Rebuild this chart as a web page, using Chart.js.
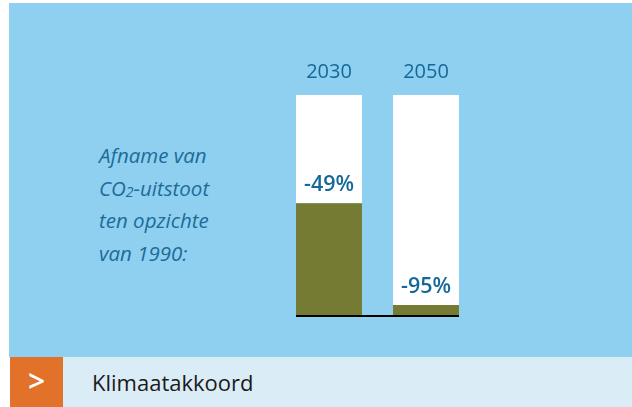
<!DOCTYPE html>
<html>
<head>
<meta charset="utf-8">
<script src="https://cdn.jsdelivr.net/npm/chart.js@4/dist/chart.umd.min.js"></script>
<style>
  body { margin: 0; width: 632px; height: 407px; background: #fff; position: relative; overflow: hidden; font-family: "Open Sans", sans-serif; }
  .blue { position: absolute; left: 9px; top: 3px; width: 623px; height: 354px; background: #8fd0f0; }
  .btn { position: absolute; left: 10px; top: 357px; width: 53px; height: 50px; background: #e2712a; color: #fff; font-size: 30px; font-weight: 600; line-height: 48px; text-align: center; }
  .strip { position: absolute; left: 63px; top: 357px; width: 569px; height: 50px; background: #daecf6; }
  .strip span { position: absolute; left: 29px; top: 0; line-height: 50px; font-size: 22px; color: #1a1a1a; }
  .note { position: absolute; left: 99px; top: 139px; font-style: italic; font-size: 20.5px; line-height: 32.7px; color: #1d6b99; }
  .note sub { font-size: 14px; line-height: 0; position: relative; top: 1px; vertical-align: baseline; }
  .chart { position: absolute; left: 0; top: 0; width: 632px; height: 407px; }
</style>
</head>
<body>
<div class="blue"></div>
<div class="btn">&gt;</div>
<div class="strip"><span>Klimaatakkoord</span></div>
<div class="note">Afname van<br>CO<sub>2</sub>-uitstoot<br>ten opzichte<br>van 1990:</div>
<div class="chart"><canvas id="c"></canvas></div>
<script>
  const years = ["2030", "2050"];
  const remaining = [51, 5];
  const reduction = [49, 95];
  const reductionLabels = ["-49%", "-95%"];

  const textBlue = "#15689a";

  const barLabels = {
    id: "barLabels",
    afterDatasetsDraw(chart) {
      const ctx = chart.ctx;
      const green = chart.getDatasetMeta(0).data;
      const y0 = chart.scales.y.getPixelForValue(0);
      const yTop = chart.scales.y.getPixelForValue(100);
      ctx.save();
      // baseline under the bars only
      const first = green[0], last = green[green.length - 1];
      ctx.fillStyle = "#000";
      ctx.fillRect(first.x - first.width / 2, y0 - 1, last.x + last.width / 2 - (first.x - first.width / 2), 2);
      ctx.textAlign = "center";
      ctx.textBaseline = "alphabetic";
      ctx.fillStyle = textBlue;
      green.forEach((bar, i) => {
        ctx.font = "20px 'Open Sans'";
        ctx.fillText(years[i], bar.x, yTop - 17);
        ctx.font = "600 21.5px 'Open Sans'";
        ctx.fillText(reductionLabels[i], bar.x, bar.y - 12);
      });
      ctx.restore();
    }
  };

  new Chart(document.getElementById("c"), {
    type: "bar",
    data: {
      labels: years,
      datasets: [
        { label: "over", data: remaining, backgroundColor: "#767b34", borderWidth: 0 },
        { label: "afname", data: reduction, backgroundColor: "#ffffff", borderWidth: 0 }
      ]
    },
    options: {
      responsive: true,
      maintainAspectRatio: false,
      animation: false,
      barPercentage: 1,
      categoryPercentage: 0.68,
      layout: { padding: { left: 280.5, right: 157.5, top: 95, bottom: 91 } },
      scales: {
        x: { stacked: true, display: false },
        y: { stacked: true, display: false, min: 0, max: 100 }
      },
      plugins: { legend: { display: false }, tooltip: { enabled: false } }
    },
    plugins: [barLabels]
  });
</script>
</body>
</html>
